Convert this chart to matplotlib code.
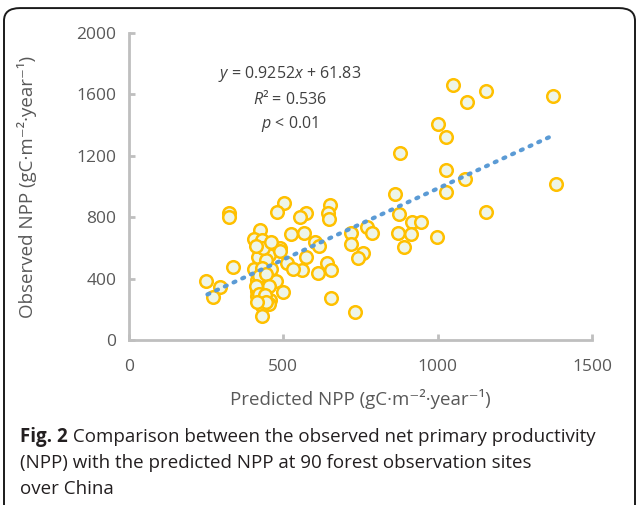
import numpy as np
import matplotlib.pyplot as plt
from matplotlib.patches import FancyBboxPatch

plt.rcParams['font.family'] = ['Open Sans', 'DejaVu Sans']
plt.rcParams['mathtext.fontset'] = 'custom'
plt.rcParams['mathtext.rm'] = 'Open Sans'
plt.rcParams['mathtext.it'] = 'Open Sans:italic'

# predicted NPP (x) and observed NPP (y), gC m-2 year-1
predicted = [1050, 1156, 1095, 1375, 1001, 1027, 1027, 1087, 1027, 1382,
             1158, 879, 863, 875, 917, 945, 870, 914, 999,
             650, 646, 647, 572, 554, 567, 603, 617, 719, 772,
             787, 720, 891, 757, 743, 573, 559, 640, 613, 654,
             653, 732,
             325, 323, 503, 479, 423, 405, 430, 525, 438, 490,
             427, 440, 453, 489, 513, 531, 337, 405, 459, 414,
             430, 475, 437, 414, 499, 415, 429, 457, 453, 427,
             430, 431, 250, 295, 271,
             418, 445, 430, 420, 445, 410, 455, 420, 440, 445,
             415, 435, 410, 460]
observed = [1661, 1620, 1550, 1587, 1405, 1320, 1110, 1049, 964, 1014,
            836, 1216, 949, 823, 767, 767, 695, 693, 674,
            880, 830, 786, 830, 803, 695, 641, 612, 695, 734,
            695, 625, 608, 565, 532, 539, 456, 499, 434, 456,
            272, 185,
            830, 800, 890, 836, 717, 660, 652, 693, 602, 602,
            558, 565, 554, 580, 499, 465, 473, 460, 460, 391,
            386, 386, 334, 321, 315, 287, 269, 261, 235, 239,
            222, 156, 386, 343, 278,
            540, 520, 470, 420, 430, 350, 350, 300, 290, 245,
            250, 600, 610, 640]

slope, intercept = 0.9252, 61.83
fit_x = np.array([254, 1375])

fig = plt.figure(figsize=(6.38, 5.05), dpi=100)
ax = fig.add_axes([0.2022, 0.3267, 0.7258, 0.608])

ax.scatter(predicted, observed, s=82, facecolor='#eef5e8', edgecolor='#ffc000',
           linewidth=1.8, zorder=3)
ax.plot(fit_x, slope * fit_x + intercept, color='#5b9bd5', linestyle=(0, (0.5, 1.8)),
        linewidth=3, dash_capstyle='round', zorder=4)

ax.set_xlim(0, 1500)
ax.set_ylim(0, 2000)
ax.set_xticks([0, 500, 1000, 1500])
ax.set_yticks([0, 400, 800, 1200, 1600, 2000])
for side in ['top', 'right']:
    ax.spines[side].set_visible(False)
for side in ['left', 'bottom']:
    ax.spines[side].set_color('#bfbfbf')
    ax.spines[side].set_linewidth(2)
ax.tick_params(direction='in', length=4, width=2, color='#bfbfbf',
               labelcolor='#595959', labelsize=12.5, pad=9)
ax.tick_params(axis='x', pad=14)

unit = ' (gC·m⁻²·year⁻¹)'
ax.set_xlabel('Predicted NPP' + unit, fontsize=13.5, color='#595959', labelpad=10)
ax.set_ylabel('Observed NPP' + unit, fontsize=13.5, color='#595959')
ax.yaxis.set_label_coords(-0.198, 0.5)

eq_style = dict(ha='center', va='center', fontsize=11.5, color='#404040')
fig.text(290 / 638, 1 - 74 / 505, '$y$ = 0.9252$x$ + 61.83', **eq_style)
fig.text(290 / 638, 1 - 99 / 505, '$R$² = 0.536', **eq_style)
fig.text(290 / 638, 1 - 124 / 505, '$p$ < 0.01', **eq_style)

# caption
cap = dict(fontsize=13.5, color='#231f20', va='center', ha='left')
bold = fig.text(20 / 638, 1 - 437 / 505, 'Fig. 2', fontweight='bold', **cap)
ax.annotate(' Comparison between the observed net primary productivity',
            xy=(1, 0.5), xycoords=bold, annotation_clip=False, **cap)
fig.text(20 / 638, 1 - 463 / 505,
         '(NPP) with the predicted NPP at 90 forest observation sites', **cap)
fig.text(20 / 638, 1 - 489 / 505, 'over China', **cap)

frame = FancyBboxPatch((4 / 638, -0.1), 631 / 638, 1.084,
                       boxstyle='round,pad=0,rounding_size=0.025',
                       transform=fig.transFigure, facecolor='none',
                       edgecolor='#1a1a1a', linewidth=1.4)
fig.patches.append(frame)

fig.savefig('out.png', dpi=100)
